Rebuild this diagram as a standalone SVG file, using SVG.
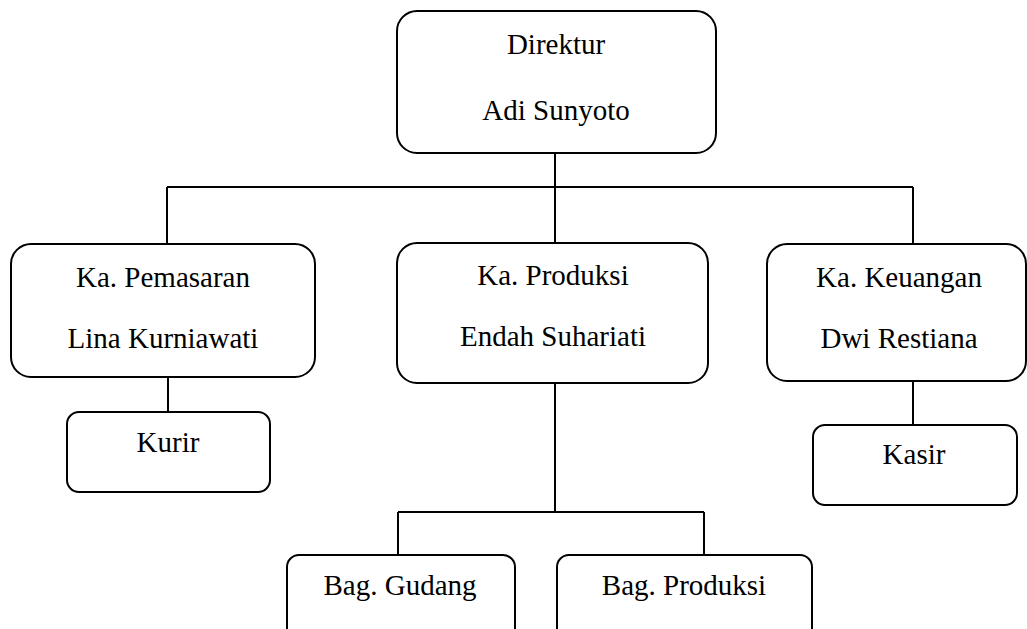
<svg xmlns="http://www.w3.org/2000/svg" width="1027" height="629" viewBox="0 0 1027 629">
<style>
.box{fill:#fff;stroke:#000;stroke-width:2}
.ln{fill:none;stroke:#000;stroke-width:2}
.t{font-family:'Liberation Serif','Times New Roman',Tinos,'DejaVu Serif',serif;font-size:29px;fill:#000;text-anchor:middle}
</style>
<rect width="1027" height="629" fill="#fff"/>
<g id="connectors">
<path class="ln" d="M555 153V243M167 187H913M167 187V244M913 187V244"/>
<path class="ln" d="M168 377V412M913 381V425"/>
<path class="ln" d="M555 383V512M398 512H704M398 512V555M704 512V555"/>
</g>
<g id="direktur">
<rect class="box" x="397" y="11" width="319" height="142" rx="20"/>
<text class="t" font-family="Liberation Serif, serif" x="556" y="54">Direktur</text>
<text class="t" font-family="Liberation Serif, serif" x="556" y="120">Adi Sunyoto</text>
</g>
<g id="pemasaran">
<rect class="box" x="11" y="244" width="304" height="133" rx="20"/>
<text class="t" font-family="Liberation Serif, serif" x="163" y="287">Ka. Pemasaran</text>
<text class="t" font-family="Liberation Serif, serif" x="163" y="348">Lina Kurniawati</text>
</g>
<g id="produksi">
<rect class="box" x="397" y="243" width="311" height="140" rx="20"/>
<text class="t" font-family="Liberation Serif, serif" x="553" y="285">Ka. Produksi</text>
<text class="t" font-family="Liberation Serif, serif" x="553" y="346">Endah Suhariati</text>
</g>
<g id="keuangan">
<rect class="box" x="767" y="244" width="259" height="137" rx="20"/>
<text class="t" font-family="Liberation Serif, serif" x="899" y="287">Ka. Keuangan</text>
<text class="t" font-family="Liberation Serif, serif" x="899" y="348">Dwi Restiana</text>
</g>
<g id="kurir">
<rect class="box" x="67" y="412" width="203" height="80" rx="12"/>
<text class="t" font-family="Liberation Serif, serif" x="168" y="452">Kurir</text>
</g>
<g id="kasir">
<rect class="box" x="813" y="425" width="204" height="80" rx="12"/>
<text class="t" font-family="Liberation Serif, serif" x="914" y="464">Kasir</text>
</g>
<g id="gudang">
<rect class="box" x="287" y="555" width="228" height="100" rx="12"/>
<text class="t" font-family="Liberation Serif, serif" x="400" y="595">Bag. Gudang</text>
</g>
<g id="bagproduksi">
<rect class="box" x="557" y="555" width="255" height="100" rx="12"/>
<text class="t" font-family="Liberation Serif, serif" x="684" y="595">Bag. Produksi</text>
</g>
</svg>
